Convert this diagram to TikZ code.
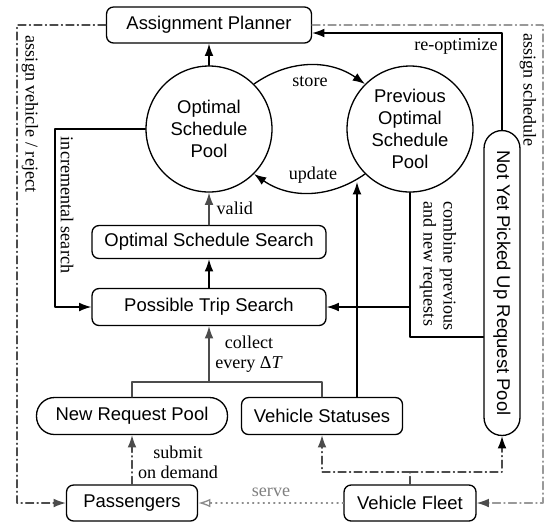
\documentclass[tikz,border=0pt]{standalone}
\usepackage{fontspec}
\setmainfont{Liberation Serif}
\setsansfont{Liberation Sans}
\usetikzlibrary{arrows.meta}

\begin{document}
\begin{tikzpicture}[x=0.02cm, y=-0.02cm, line cap=round, line join=round,
	every node/.style={inner sep=0pt},
	box/.style={draw, line width=0.75pt, rounded corners=4pt, minimum height=0.72cm,
		font=\sffamily\fontsize{10.5}{12.6}\selectfont},
	pill/.style={box, rounded corners=0.36cm},
	pool/.style={draw, line width=0.75pt, circle, minimum size=2.52cm, align=center,
		font=\sffamily\fontsize{10.5}{12.6}\selectfont},
	lbl/.style={font=\fontsize{10.3}{11.4}\selectfont, align=center},
	flow/.style={line width=0.75pt, -{Latex[length=7pt,width=5pt]}},
	gflow/.style={flow, black!70},
	dashdot/.style={dash pattern=on 4.5pt off 2pt on 0.6pt off 2pt},
	]
	
	% ----------------------------
	% 0) Canvas (pixel units, y down)
	% ----------------------------
	\useasboundingbox (0,0) rectangle (546,522);
	
	% ----------------------------
	% 1) Boxes and pools
	% ----------------------------
	\node[box, minimum width=4.1cm] (ap) at (209,25) {Assignment Planner};
	\node[pool] (osp) at (209,129) {Optimal\\Schedule\\Pool};
	\node[pool] (posp) at (410,129) {Previous\\Optimal\\Schedule\\Pool};
	\node[box, minimum width=4.68cm, minimum height=0.66cm] (oss) at (209,242) {Optimal Schedule Search};
	\node[box, minimum width=4.68cm, minimum height=0.74cm] (pts) at (209,307) {Possible Trip Search};
	\node[pill, minimum width=3.82cm, minimum height=0.74cm] (nrp) at (132,416) {New Request Pool};
	\node[box, minimum width=3.22cm, minimum height=0.74cm] (vs) at (322,416) {Vehicle Statuses};
	% rotated: west = top, east = bottom, south = left side
	\node[pill, rotate=-90, minimum width=6.1cm, minimum height=0.72cm] (nyp) at (502,283)
	{Not Yet Picked Up Request Pool};
	\node[box, minimum width=2.62cm] (pass) at (132,503) {Passengers};
	\node[box, minimum width=2.64cm] (fleet) at (410,503) {Vehicle Fleet};
	
	% ----------------------------
	% 2) Store / update between pools
	% ----------------------------
	\draw[flow] (osp.45) to[bend left=35] (posp.135);
	\node[lbl] (lstore) at (310,81) {store};
	\draw[flow] (posp.-135) to[bend left=35] (osp.-45);
	\node[lbl] (lupdate) at (313,175) {update};
	
	% ----------------------------
	% 3) Search chain
	% ----------------------------
	\draw[flow] (osp.north) -- (ap.south);
	\draw[gflow] (oss.north) -- (osp.south) node[lbl, black, midway, right=4pt] (lvalid) {valid};
	\draw[flow] (pts.north) -- (oss.south);
	
	\coordinate (incr) at (55,129);
	\draw[flow] (osp.west) -- (incr) |- (pts.west);
	\node[lbl, rotate=-90] (lincr) at (67,205) {incremental search};
	
	% ----------------------------
	% 4) Previous pool + not yet picked up
	% ----------------------------
	\coordinate (comb) at (410,337);
	\draw[line width=0.75pt] (posp.south) -- (comb) -- (comb -| nyp.south);
	\draw[flow] (posp.south |- pts.east) -- (pts.east);
	\node[lbl, rotate=-90, align=left] (lcomb) at (438,266) {combine previous\\and new requests};
	
	\coordinate (reopt) at (502,33);
	\draw[flow] (nyp.west) -- (reopt) -- (reopt -| ap.east);
	\node[lbl] (lreopt) at (456,46) {re-optimize};
	
	% ----------------------------
	% 5) Collect every Delta T
	% ----------------------------
	\coordinate (coll) at (209,382);
	\draw[line width=0.75pt, black!70] (nrp.north) |- (coll) -| (vs.north);
	\draw[gflow] (coll) -- (pts.south);
	\node[lbl] (lcoll) at (249,354) {collect\\every Δ\textit{T}};
	
	\coordinate (vshit) at (357,182);
	\draw[flow] (vs.north -| vshit) -- (vshit);
	
	% ----------------------------
	% 6) Passengers and fleet
	% ----------------------------
	\draw[gflow, dashdot] (pass.north) -- (nrp.south);
	\node[lbl] (lsub) at (178,462) {submit\\on demand};
	
	\coordinate (fl) at (410,472);
	\draw[line width=0.75pt, black!70, dashdot] (fleet.north) -- (fl);
	\draw[gflow, dashdot] (fl) -| (vs.south);
	\draw[gflow, dashdot, -{Latex[length=7pt,width=5pt,color=black]}] (fl) -| (nyp.east);
	
	\draw[line width=0.75pt, black!45, dash pattern=on 0.6pt off 2.4pt,
	-{Latex[open,length=7pt,width=5pt]}] (fleet.west) -- (pass.east);
	\node[lbl, black!50] (lserve) at (271,492) {serve};
	
	% ----------------------------
	% 7) Assignment loops
	% ----------------------------
	\coordinate (lft) at (17,25);
	\draw[gflow, dashdot] (ap.west) -- (lft) |- (pass.west);
	\node[lbl, rotate=-90] (lassv) at (30,114) {assign vehicle / reject};
	
	\coordinate (rgt) at (543,25);
	\draw[flow, black!40, dashdot, -{Latex[length=7pt,width=5pt,color=black!70]}]
	(ap.east) -- (rgt) |- (fleet.east);
	\node[lbl, rotate=-90] (lasss) at (528,90) {assign schedule};
	
\end{tikzpicture}
\end{document}
